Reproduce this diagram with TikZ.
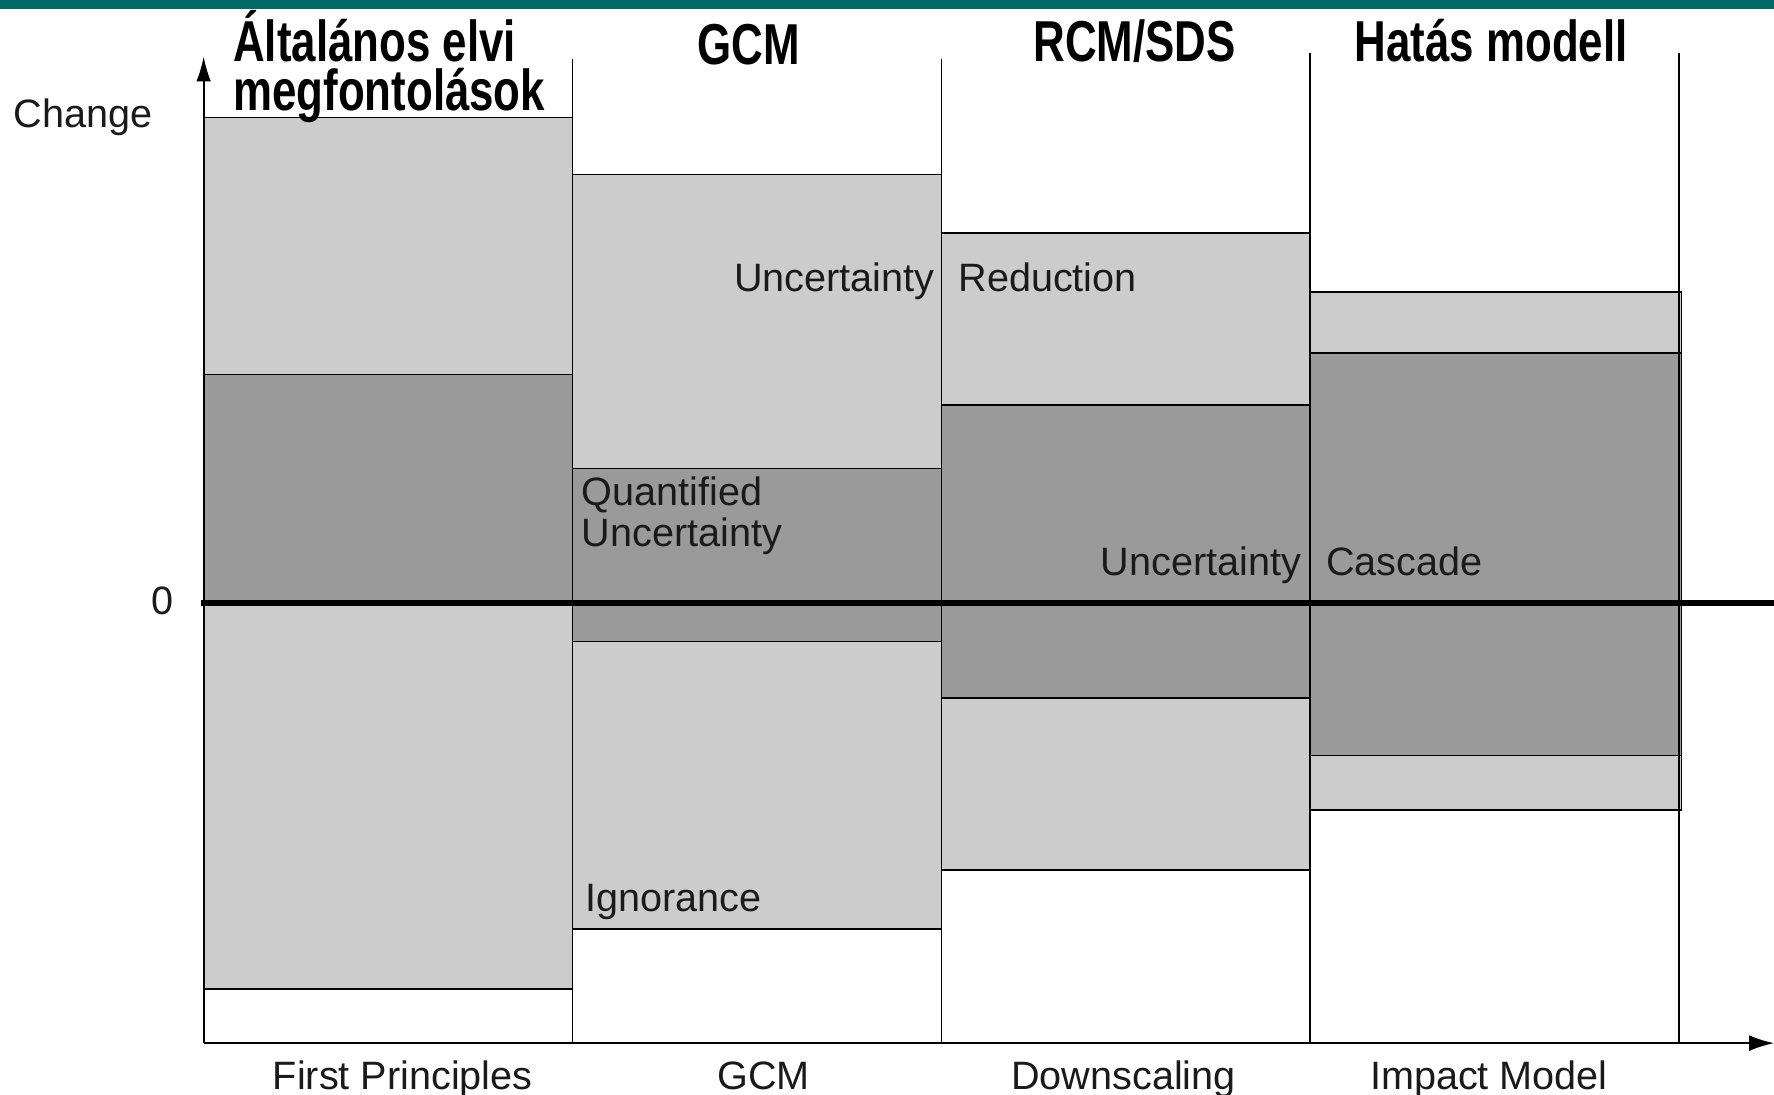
\documentclass[tikz,border=0pt]{standalone}
\usepackage{fontspec}
\setmainfont{Liberation Sans}
\newfontfamily\hdfont[FakeStretch=0.76]{Liberation Sans}
\usetikzlibrary{arrows.meta}
\definecolor{lightg}{HTML}{CCCCCC}
\definecolor{darkg}{HTML}{9A9A9A}
\definecolor{barg}{HTML}{006A66}
\definecolor{txt}{HTML}{1A1A1A}
\tikzset{
  lightbox/.style={fill=lightg,draw=black,line width=1.2pt},
  darkbox/.style={fill=darkg,draw=black,line width=1.2pt},
  thinline/.style={draw=black,line width=1.2pt},
  lbl/.style={inner sep=0pt,text=txt,font=\fontsize{35}{40}\selectfont},
  hdr/.style={inner sep=0pt,text=black,font=\hdfont\bfseries\fontsize{51}{44}\selectfont},
  btm/.style={inner sep=0pt,text=txt,font=\fontsize{35}{40}\selectfont},
}
\begin{document}
\begin{tikzpicture}[x=1pt,y=-1pt]
\useasboundingbox (0,0) rectangle (1568,967);
\fill[barg] (0,0) rectangle (1568,8);
% column 1
\path[lightbox] (180,104) rectangle (506,331);
\path[darkbox] (180,331) rectangle (508,533);
\path[lightbox] (180,533) rectangle (506,874);
% column 2
\path[lightbox] (506,154) rectangle (832,414);
\path[darkbox] (506,414) rectangle (832,567);
\path[lightbox] (506,567) rectangle (832,821);
% column 3
\path[lightbox] (832,206) rectangle (1158,358);
\path[darkbox] (832,358) rectangle (1158,617);
\path[lightbox] (832,617) rectangle (1158,769);
% column 4
\path[lightbox] (1158,258) rectangle (1486,312);
\path[darkbox] (1158,312) rectangle (1486,668);
\path[lightbox] (1158,668) rectangle (1486,716);
% column separators
\coordinate (s1t) at (506,52); \coordinate (s1b) at (506,922);
\coordinate (s2t) at (832,52); \coordinate (s2b) at (832,922);
\coordinate (s3t) at (1158,47); \coordinate (s3b) at (1158,922);
\coordinate (s4t) at (1484,47); \coordinate (s4b) at (1484,922);
\draw[thinline] (s1t) -- (s1b);
\draw[thinline] (s2t) -- (s2b);
\draw[thinline] (s3t) -- (s3b);
\draw[thinline] (s4t) -- (s4b);
% axes
\coordinate (origin) at (180,922);
\coordinate (ytip) at (180,50);
\coordinate (xtip) at (1568,922);
\draw[line width=1.6pt,-{Latex[length=22pt,width=13pt]}] (origin) -- (ytip);
\draw[line width=1.6pt,-{Latex[length=22pt,width=14pt]}] (origin) -- (xtip);
\coordinate (z0) at (178,533);
\coordinate (z1) at (1568,533);
\draw[line width=5.5pt] (z0) -- (z1);
% labels
\node[lbl,anchor=base west] (change) at (12,113) {Change};
\node[lbl,anchor=base] (zero) at (144,543) {0};
\node[lbl,anchor=base east] (unc1) at (826,258) {Uncertainty};
\node[lbl,anchor=base west] (red) at (847,258) {Reduction};
\node[lbl,anchor=base west] (quant) at (514,447) {Quantified};
\node[lbl,anchor=base west] (unc2) at (514,483) {Uncertainty};
\node[lbl,anchor=base east] (unc3) at (1150,509) {Uncertainty};
\node[lbl,anchor=base west] (casc) at (1172,509) {Cascade};
\node[lbl,anchor=base west] (ign) at (517,806) {Ignorance};
% bottom labels
\node[btm,anchor=base] (b1) at (356,963) {First Principles};
\node[btm,anchor=base] (b2) at (675,963) {GCM};
\node[btm,anchor=base] (b3) at (993,963) {Downscaling};
\node[btm,anchor=base] (b4) at (1316,963) {Impact Model};
% headers
\node[hdr,anchor=base west] (h1a) at (206,54) {Általános elvi};
\node[hdr,anchor=base west] (h1b) at (206,98) {megfontolások};
\node[hdr,anchor=base] (h2) at (662,57) {GCM};
\node[hdr,anchor=base] (h3) at (1003,54) {RCM/SDS};
\node[hdr,anchor=base] (h4) at (1318,54) {Hatás modell};
\end{tikzpicture}
\end{document}
